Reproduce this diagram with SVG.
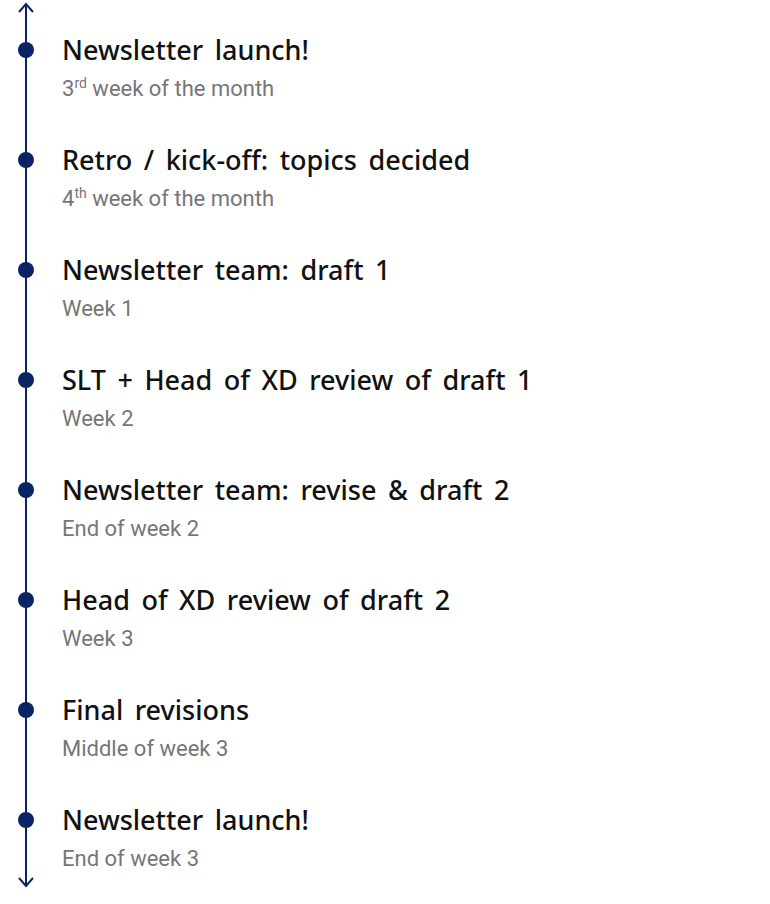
<svg xmlns="http://www.w3.org/2000/svg" width="770" height="904" viewBox="0 0 770 904">
<style>
.t{font-family:"Noto Sans","Open Sans",sans-serif;font-size:27px;fill:#111;font-weight:500;word-spacing:4.5px}
.s{font-family:Roboto,"Liberation Sans",sans-serif;font-size:22px;fill:#767676}
.sup{font-size:14px}
.dot{fill:#0a2463}
</style>
<rect width="770" height="904" fill="#fff"/>
<g id="connectors" stroke="#0a2463" stroke-width="2" fill="none">
<line x1="26" y1="4" x2="26" y2="886"/>
<polyline points="19,12 26,4 33,12"/>
<polyline points="19,878 26,886 33,878"/>
</g>
<g id="n1"><circle class="dot" cx="26" cy="50" r="8"/><text class="t" x="62" y="60">Newsletter launch!</text><text class="s" x="62" y="96">3<tspan class="sup" dy="-8">rd</tspan><tspan dy="8"> week of the month</tspan></text></g>
<g id="n2"><circle class="dot" cx="26" cy="160" r="8"/><text class="t" x="62" y="170">Retro / kick-off: topics decided</text><text class="s" x="62" y="206">4<tspan class="sup" dy="-8">th</tspan><tspan dy="8"> week of the month</tspan></text></g>
<g id="n3"><circle class="dot" cx="26" cy="270" r="8"/><text class="t" x="62" y="280">Newsletter team: draft 1</text><text class="s" x="62" y="316">Week 1</text></g>
<g id="n4"><circle class="dot" cx="26" cy="380" r="8"/><text class="t" x="62" y="390">SLT + Head of XD review of draft 1</text><text class="s" x="62" y="426">Week 2</text></g>
<g id="n5"><circle class="dot" cx="26" cy="490" r="8"/><text class="t" x="62" y="500">Newsletter team: revise &amp; draft 2</text><text class="s" x="62" y="536">End of week 2</text></g>
<g id="n6"><circle class="dot" cx="26" cy="600" r="8"/><text class="t" x="62" y="610">Head of XD review of draft 2</text><text class="s" x="62" y="646">Week 3</text></g>
<g id="n7"><circle class="dot" cx="26" cy="710" r="8"/><text class="t" x="62" y="720">Final revisions</text><text class="s" x="62" y="756">Middle of week 3</text></g>
<g id="n8"><circle class="dot" cx="26" cy="820" r="8"/><text class="t" x="62" y="830">Newsletter launch!</text><text class="s" x="62" y="866">End of week 3</text></g>
</svg>
